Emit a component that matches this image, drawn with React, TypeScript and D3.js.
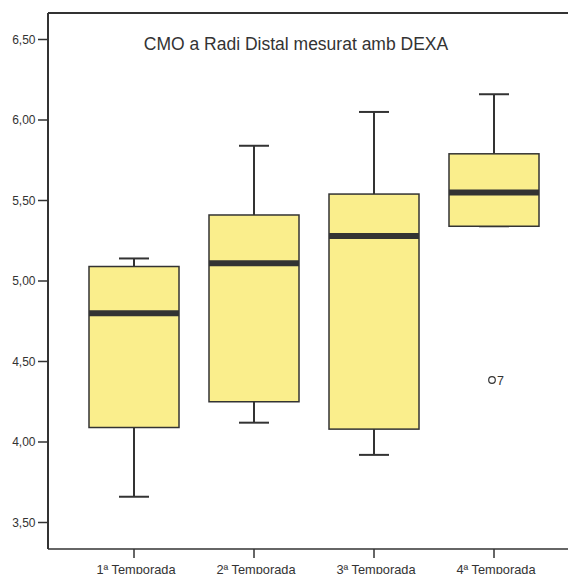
import React from "react";
import * as d3 from "d3";

const categories = ["1ª Temporada", "2ª Temporada", "3ª Temporada", "4ª Temporada"];
const whiskerLow = [3.66, 4.12, 3.92, 5.34];
const q1 = [4.09, 4.25, 4.08, 5.34];
const median = [4.80, 5.11, 5.28, 5.55];
const q3 = [5.09, 5.41, 5.54, 5.79];
const whiskerHigh = [5.14, 5.84, 6.05, 6.16];
const outliers = [{ cat: 3, value: 4.385, label: "7" }];
const yTicks = [3.5, 4.0, 4.5, 5.0, 5.5, 6.0, 6.5];

const W = 568;
const H = 574;
const frame = { left: 48, top: 13, bottom: 549, right: 580 };
const ink = "#333333";
const fill = "#faee8c";

export default function App() {
  const y = d3.scaleLinear().domain([4, 6.5]).range([442, 39.5]);
  const x = d3.scaleBand<string>().domain(categories).range([74, 554]);
  const boxW = 90;
  const capW = 30;
  const fmt = (v: number) => d3.format(".2f")(v).replace(".", ",");
  const font = "'Liberation Sans', Arial, sans-serif";

  return (
    <svg width={W} height={H} style={{ position: "absolute", left: 0, top: 0 }} fontFamily={font}>
      <rect x={0} y={0} width={W} height={H} fill="#fff" />
      {/* frame */}
      <line x1={frame.left} x2={frame.right} y1={frame.top} y2={frame.top} stroke={ink} strokeWidth={2} />
      <line x1={frame.left} x2={frame.left} y1={frame.top} y2={frame.bottom} stroke={ink} strokeWidth={2} />
      <line x1={frame.left} x2={frame.right} y1={frame.bottom} y2={frame.bottom} stroke={ink} strokeWidth={1.5} />

      {/* y axis */}
      {yTicks.map((t) => (
        <g key={t}>
          <line x1={38} x2={frame.left} y1={y(t)} y2={y(t)} stroke={ink} strokeWidth={1.5} />
          <text x={35.5} y={y(t) + 4.2} textAnchor="end" fontSize={12} fill={ink}>
            {fmt(t)}
          </text>
        </g>
      ))}

      {/* x axis */}
      {categories.map((c) => {
        const cx = (x(c) as number) + x.bandwidth() / 2;
        return (
          <g key={c}>
            <line x1={cx} x2={cx} y1={frame.bottom} y2={frame.bottom + 9} stroke={ink} strokeWidth={1.5} />
            <text x={cx + 2} y={573.5} textAnchor="middle" fontSize={12.8} fill={ink}>
              {c}
            </text>
          </g>
        );
      })}

      {/* boxes */}
      {categories.map((c, i) => {
        const cx = (x(c) as number) + x.bandwidth() / 2;
        return (
          <g key={c}>
            <line x1={cx} x2={cx} y1={y(whiskerHigh[i])} y2={y(q3[i])} stroke={ink} strokeWidth={2} />
            <line x1={cx} x2={cx} y1={y(q1[i])} y2={y(whiskerLow[i])} stroke={ink} strokeWidth={2} />
            <line x1={cx - capW / 2} x2={cx + capW / 2} y1={y(whiskerHigh[i])} y2={y(whiskerHigh[i])} stroke={ink} strokeWidth={2} />
            <line x1={cx - capW / 2} x2={cx + capW / 2} y1={y(whiskerLow[i])} y2={y(whiskerLow[i])} stroke={ink} strokeWidth={2} />
            <rect
              x={cx - boxW / 2}
              y={y(q3[i])}
              width={boxW}
              height={y(q1[i]) - y(q3[i])}
              fill={fill}
              stroke={ink}
              strokeWidth={1.5}
            />
            <line x1={cx - boxW / 2} x2={cx + boxW / 2} y1={y(median[i])} y2={y(median[i])} stroke={ink} strokeWidth={6} />
          </g>
        );
      })}

      {/* outliers */}
      {outliers.map((o) => {
        const cx = (x(categories[o.cat]) as number) + x.bandwidth() / 2 - 2;
        return (
          <g key={o.label}>
            <circle cx={cx} cy={y(o.value)} r={3.3} fill="none" stroke={ink} strokeWidth={1.2} />
            <text x={cx + 5} y={y(o.value) + 4.5} fontSize={12.5} fill={ink}>
              {o.label}
            </text>
          </g>
        );
      })}

      <text x={296} y={49.5} textAnchor="middle" fontSize={17.5} fill={ink}>
        CMO a Radi Distal mesurat amb DEXA
      </text>
    </svg>
  );
}
